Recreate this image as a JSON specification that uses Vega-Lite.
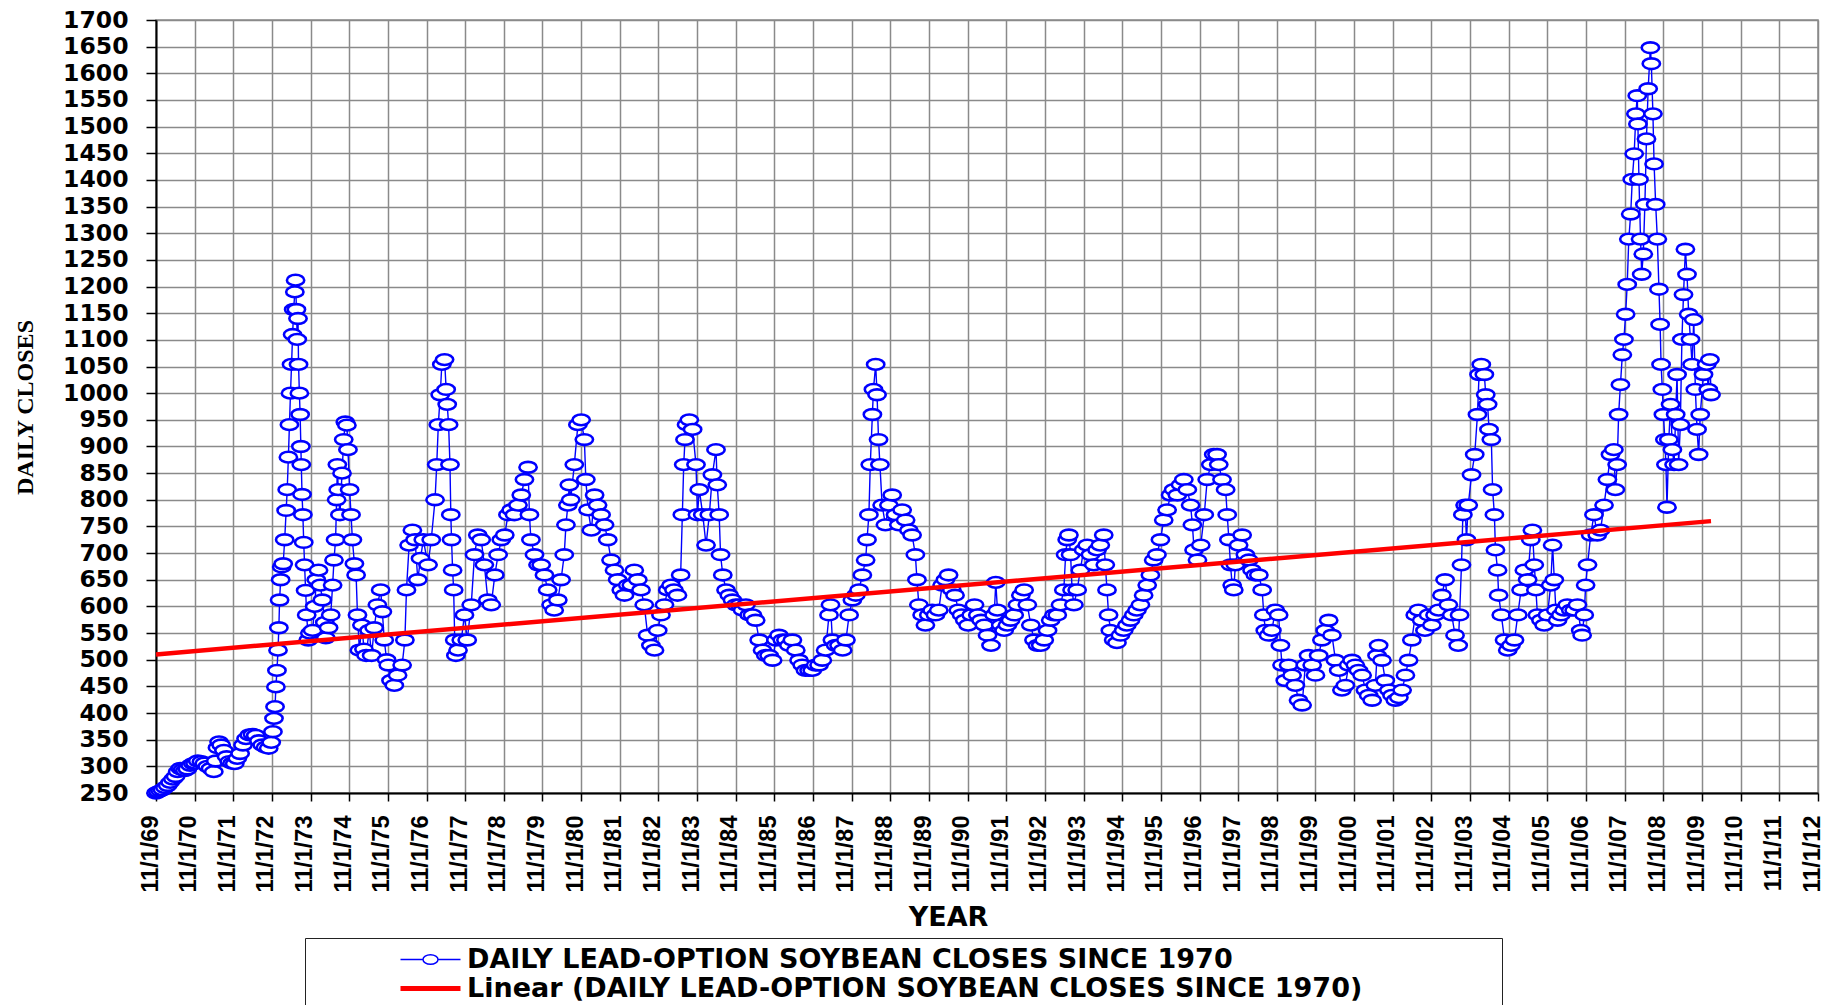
{
"$schema": "https://vega.github.io/schema/vega-lite/v6.json",
"width": 1662, "height": 773,
"autosize": {"type": "none"},
"padding": {"left": 156, "top": 20, "right": 6, "bottom": 212},
"background": "white",
"config": {
 "view": {"stroke": "#8a8a8a", "strokeWidth": 1.5},
 "axis": {"gridColor": "#8a8a8a", "gridWidth": 1.5, "gridOpacity": 1, "domainColor": "#000", "domainWidth": 2, "tickColor": "#000", "tickWidth": 1.5, "labelColor": "#000", "titleColor": "#000"}
},
"datasets": {
"trend": [{"d":"1969-11-01","v":510},{"d":"2010-01-25","v":760}],
"prices": [
{"d":"1969-11-01","v":250},{"d":"1969-11-20","v":252},{"d":"1969-12-10","v":254},{"d":"1970-01-01","v":256},{"d":"1970-01-25","v":260},{"d":"1970-02-20","v":264},{"d":"1970-03-15","v":270},{"d":"1970-04-10","v":276},{"d":"1970-05-05","v":281},{"d":"1970-05-25","v":290},{"d":"1970-06-18","v":296},{"d":"1970-07-10","v":294},{"d":"1970-08-01","v":292},{"d":"1970-08-25","v":295},{"d":"1970-09-20","v":302},{"d":"1970-10-15","v":305},{"d":"1970-11-05","v":306},{"d":"1970-12-01","v":310},
{"d":"1971-01-05","v":309},{"d":"1971-02-01","v":306},{"d":"1971-03-01","v":300},{"d":"1971-04-01","v":296},{"d":"1971-05-01","v":290},{"d":"1971-05-20","v":310},{"d":"1971-06-05","v":335},{"d":"1971-06-20","v":346},{"d":"1971-07-10","v":340},{"d":"1971-08-05","v":330},{"d":"1971-08-30","v":318},{"d":"1971-09-25","v":309},{"d":"1971-10-20","v":306},{"d":"1971-11-15","v":305},{"d":"1971-12-10","v":315},
{"d":"1972-01-05","v":324},{"d":"1972-02-01","v":340},{"d":"1972-03-01","v":352},{"d":"1972-04-01","v":359},{"d":"1972-05-01","v":360},{"d":"1972-06-01","v":358},{"d":"1972-07-01","v":348},{"d":"1972-08-01","v":340},{"d":"1972-09-01","v":336},{"d":"1972-10-01","v":334},{"d":"1972-10-25","v":345},{"d":"1972-11-10","v":365},{"d":"1972-11-20","v":390},{"d":"1972-11-30","v":412},{"d":"1972-12-08","v":449},{"d":"1972-12-18","v":480},{"d":"1972-12-28","v":518},
{"d":"1973-01-05","v":560},{"d":"1973-01-12","v":612},{"d":"1973-01-22","v":650},{"d":"1973-02-01","v":674},{"d":"1973-02-15","v":680},{"d":"1973-03-01","v":725},{"d":"1973-03-15","v":780},{"d":"1973-03-25","v":819},{"d":"1973-04-05","v":880},{"d":"1973-04-15","v":941},{"d":"1973-04-25","v":1000},{"d":"1973-05-05","v":1054},{"d":"1973-05-15","v":1110},{"d":"1973-05-25","v":1157},{"d":"1973-06-05","v":1190},{"d":"1973-06-12","v":1212},{"d":"1973-06-20","v":1157},{"d":"1973-06-28","v":1101},{"d":"1973-07-05","v":1140},{"d":"1973-07-10","v":1054},{"d":"1973-07-18","v":1000},{"d":"1973-07-25","v":960},{"d":"1973-08-01","v":900},{"d":"1973-08-05","v":866},{"d":"1973-08-12","v":810},{"d":"1973-08-20","v":772},{"d":"1973-08-28","v":720},{"d":"1973-09-05","v":678},{"d":"1973-09-15","v":630},{"d":"1973-09-25","v":584},{"d":"1973-10-10","v":537},{"d":"1973-10-25","v":550},{"d":"1973-11-20","v":555},{"d":"1973-12-10","v":600},{"d":"1973-12-25","v":650},
{"d":"1974-01-15","v":668},{"d":"1974-02-01","v":640},{"d":"1974-02-20","v":612},{"d":"1974-03-15","v":570},{"d":"1974-03-25","v":541},{"d":"1974-04-20","v":560},{"d":"1974-05-10","v":584},{"d":"1974-05-28","v":640},{"d":"1974-06-10","v":687},{"d":"1974-06-25","v":725},{"d":"1974-07-05","v":800},{"d":"1974-07-12","v":866},{"d":"1974-07-20","v":819},{"d":"1974-08-05","v":772},{"d":"1974-08-25","v":850},{"d":"1974-09-10","v":913},{"d":"1974-09-25","v":946},{"d":"1974-10-10","v":940},{"d":"1974-10-20","v":894},{"d":"1974-11-05","v":819},{"d":"1974-11-18","v":772},{"d":"1974-12-01","v":725},{"d":"1974-12-20","v":680},
{"d":"1975-01-05","v":659},{"d":"1975-01-18","v":584},{"d":"1975-02-05","v":518},{"d":"1975-03-01","v":565},{"d":"1975-03-20","v":520},{"d":"1975-04-10","v":508},{"d":"1975-05-08","v":555},{"d":"1975-06-01","v":508},{"d":"1975-06-25","v":560},{"d":"1975-07-25","v":603},{"d":"1975-08-25","v":631},{"d":"1975-09-10","v":590},{"d":"1975-09-28","v":537},{"d":"1975-10-20","v":500},{"d":"1975-11-05","v":490},{"d":"1975-12-01","v":461},
{"d":"1976-01-01","v":452},{"d":"1976-02-01","v":471},{"d":"1976-03-15","v":490},{"d":"1976-04-10","v":537},{"d":"1976-04-25","v":631},{"d":"1976-05-20","v":715},{"d":"1976-06-20","v":743},{"d":"1976-07-15","v":725},{"d":"1976-08-10","v":650},{"d":"1976-09-05","v":690},{"d":"1976-10-01","v":725},{"d":"1976-11-15","v":678},{"d":"1976-12-15","v":725},
{"d":"1977-01-20","v":800},{"d":"1977-02-05","v":866},{"d":"1977-02-20","v":941},{"d":"1977-03-10","v":997},{"d":"1977-03-25","v":1054},{"d":"1977-04-20","v":1063},{"d":"1977-05-05","v":1007},{"d":"1977-05-15","v":979},{"d":"1977-05-28","v":941},{"d":"1977-06-10","v":866},{"d":"1977-06-18","v":772},{"d":"1977-06-25","v":725},{"d":"1977-07-05","v":668},{"d":"1977-07-15","v":631},{"d":"1977-07-25","v":537},{"d":"1977-08-05","v":508},{"d":"1977-08-25","v":518},{"d":"1977-09-25","v":537},{"d":"1977-10-25","v":584},{"d":"1977-11-20","v":537},{"d":"1977-12-28","v":603},
{"d":"1978-01-28","v":697},{"d":"1978-02-28","v":734},{"d":"1978-04-01","v":725},{"d":"1978-05-01","v":678},{"d":"1978-06-03","v":612},{"d":"1978-07-05","v":603},{"d":"1978-08-08","v":659},{"d":"1978-09-08","v":697},{"d":"1978-10-08","v":725},{"d":"1978-11-10","v":734},{"d":"1978-12-10","v":772},
{"d":"1979-01-10","v":781},{"d":"1979-02-10","v":772},{"d":"1979-03-15","v":790},{"d":"1979-04-15","v":809},{"d":"1979-05-15","v":838},{"d":"1979-06-18","v":861},{"d":"1979-07-01","v":772},{"d":"1979-07-15","v":725},{"d":"1979-08-18","v":697},{"d":"1979-09-20","v":678},{"d":"1979-10-20","v":678},{"d":"1979-11-20","v":659},{"d":"1979-12-20","v":631},
{"d":"1980-01-22","v":603},{"d":"1980-02-20","v":593},{"d":"1980-03-25","v":612},{"d":"1980-04-25","v":650},{"d":"1980-05-25","v":697},{"d":"1980-06-10","v":753},{"d":"1980-06-28","v":790},{"d":"1980-07-12","v":828},{"d":"1980-07-25","v":800},{"d":"1980-08-28","v":866},{"d":"1980-10-01","v":941},{"d":"1980-11-01","v":950},{"d":"1980-12-01","v":913},{"d":"1980-12-15","v":838},
{"d":"1981-01-05","v":781},{"d":"1981-02-05","v":743},{"d":"1981-03-08","v":809},{"d":"1981-04-05","v":790},{"d":"1981-05-08","v":772},{"d":"1981-06-10","v":753},{"d":"1981-07-10","v":725},{"d":"1981-08-10","v":687},{"d":"1981-09-12","v":668},{"d":"1981-10-12","v":650},{"d":"1981-11-15","v":631},{"d":"1981-12-15","v":621},
{"d":"1982-01-15","v":640},{"d":"1982-02-18","v":640},{"d":"1982-03-18","v":668},{"d":"1982-04-20","v":650},{"d":"1982-05-20","v":631},{"d":"1982-06-20","v":603},{"d":"1982-07-22","v":546},{"d":"1982-08-22","v":527},{"d":"1982-09-25","v":518},{"d":"1982-10-25","v":555},{"d":"1982-11-25","v":584},{"d":"1982-12-28","v":603},
{"d":"1983-01-28","v":631},{"d":"1983-02-28","v":640},{"d":"1983-03-28","v":631},{"d":"1983-04-30","v":621},{"d":"1983-05-30","v":659},{"d":"1983-06-15","v":772},{"d":"1983-06-28","v":866},{"d":"1983-07-10","v":913},{"d":"1983-07-25","v":941},{"d":"1983-08-20","v":950},{"d":"1983-09-20","v":932},{"d":"1983-10-22","v":866},{"d":"1983-11-05","v":772},{"d":"1983-11-22","v":819},{"d":"1983-12-25","v":772},
{"d":"1984-01-25","v":715},{"d":"1984-02-25","v":772},{"d":"1984-03-25","v":847},{"d":"1984-04-28","v":894},{"d":"1984-05-10","v":828},{"d":"1984-05-28","v":772},{"d":"1984-06-10","v":697},{"d":"1984-07-01","v":659},{"d":"1984-08-01","v":631},{"d":"1984-09-01","v":621},{"d":"1984-10-01","v":612},{"d":"1984-11-01","v":603},{"d":"1984-12-05","v":603},
{"d":"1985-01-05","v":593},{"d":"1985-02-05","v":603},{"d":"1985-03-08","v":584},{"d":"1985-04-08","v":584},{"d":"1985-05-08","v":574},{"d":"1985-06-10","v":537},{"d":"1985-07-12","v":518},{"d":"1985-08-12","v":508},{"d":"1985-09-12","v":508},{"d":"1985-10-15","v":499},{"d":"1985-11-15","v":537},{"d":"1985-12-15","v":546},
{"d":"1986-01-15","v":537},{"d":"1986-02-18","v":537},{"d":"1986-03-18","v":527},{"d":"1986-04-20","v":537},{"d":"1986-05-22","v":518},{"d":"1986-06-22","v":499},{"d":"1986-07-22","v":490},{"d":"1986-08-22","v":480},{"d":"1986-09-25","v":480},{"d":"1986-10-25","v":480},{"d":"1986-11-25","v":490},{"d":"1986-12-28","v":490},
{"d":"1987-01-28","v":499},{"d":"1987-02-28","v":518},{"d":"1987-04-01","v":584},{"d":"1987-04-15","v":603},{"d":"1987-05-03","v":537},{"d":"1987-06-03","v":527},{"d":"1987-07-05","v":527},{"d":"1987-08-08","v":518},{"d":"1987-09-08","v":537},{"d":"1987-10-08","v":584},{"d":"1987-11-08","v":612},{"d":"1987-12-10","v":621},
{"d":"1988-01-10","v":631},{"d":"1988-02-10","v":659},{"d":"1988-03-12","v":687},{"d":"1988-03-25","v":725},{"d":"1988-04-12","v":772},{"d":"1988-04-25","v":866},{"d":"1988-05-15","v":960},{"d":"1988-05-25","v":1007},{"d":"1988-06-15","v":1054},{"d":"1988-06-28","v":997},{"d":"1988-07-12","v":913},{"d":"1988-07-25","v":866},{"d":"1988-08-15","v":790},{"d":"1988-09-15","v":753},{"d":"1988-10-18","v":790},{"d":"1988-11-18","v":809},{"d":"1988-12-20","v":772},
{"d":"1989-01-20","v":753},{"d":"1989-02-20","v":781},{"d":"1989-03-25","v":762},{"d":"1989-04-25","v":743},{"d":"1989-05-25","v":734},{"d":"1989-06-25","v":697},{"d":"1989-07-10","v":650},{"d":"1989-07-28","v":603},{"d":"1989-08-28","v":584},{"d":"1989-09-28","v":565},{"d":"1989-10-30","v":584},{"d":"1989-12-01","v":593},
{"d":"1990-01-01","v":584},{"d":"1990-02-01","v":593},{"d":"1990-03-05","v":640},{"d":"1990-04-05","v":650},{"d":"1990-05-05","v":659},{"d":"1990-06-05","v":631},{"d":"1990-07-05","v":621},{"d":"1990-08-05","v":593},{"d":"1990-09-05","v":584},{"d":"1990-10-05","v":574},{"d":"1990-11-05","v":565},{"d":"1990-12-05","v":584},
{"d":"1991-01-05","v":603},{"d":"1991-02-05","v":584},{"d":"1991-03-08","v":574},{"d":"1991-04-08","v":565},{"d":"1991-05-08","v":546},{"d":"1991-06-10","v":527},{"d":"1991-07-10","v":584},{"d":"1991-07-25","v":645},{"d":"1991-08-10","v":593},{"d":"1991-09-10","v":565},{"d":"1991-10-12","v":555},{"d":"1991-11-12","v":565},{"d":"1991-12-12","v":574},
{"d":"1992-01-15","v":584},{"d":"1992-02-15","v":603},{"d":"1992-03-18","v":621},{"d":"1992-04-18","v":631},{"d":"1992-05-18","v":603},{"d":"1992-06-20","v":565},{"d":"1992-07-20","v":537},{"d":"1992-08-22","v":527},{"d":"1992-09-22","v":527},{"d":"1992-10-25","v":537},{"d":"1992-11-25","v":555},{"d":"1992-12-25","v":574},
{"d":"1993-01-25","v":584},{"d":"1993-02-25","v":584},{"d":"1993-03-28","v":603},{"d":"1993-04-28","v":631},{"d":"1993-05-15","v":697},{"d":"1993-05-30","v":725},{"d":"1993-06-15","v":734},{"d":"1993-07-01","v":697},{"d":"1993-07-15","v":631},{"d":"1993-08-01","v":603},{"d":"1993-09-01","v":631},{"d":"1993-10-01","v":668},{"d":"1993-11-01","v":706},{"d":"1993-12-05","v":715},
{"d":"1994-01-05","v":697},{"d":"1994-02-05","v":678},{"d":"1994-03-08","v":706},{"d":"1994-04-08","v":715},{"d":"1994-05-10","v":734},{"d":"1994-05-25","v":678},{"d":"1994-06-10","v":631},{"d":"1994-06-25","v":584},{"d":"1994-07-12","v":555},{"d":"1994-08-12","v":537},{"d":"1994-09-12","v":532},{"d":"1994-10-15","v":546},{"d":"1994-11-15","v":555},{"d":"1994-12-15","v":565},
{"d":"1995-01-18","v":574},{"d":"1995-02-18","v":584},{"d":"1995-03-20","v":593},{"d":"1995-04-22","v":603},{"d":"1995-05-22","v":621},{"d":"1995-06-25","v":640},{"d":"1995-07-25","v":659},{"d":"1995-08-25","v":687},{"d":"1995-09-25","v":697},{"d":"1995-10-28","v":725},{"d":"1995-11-28","v":762},{"d":"1995-12-30","v":781},
{"d":"1996-02-01","v":809},{"d":"1996-03-01","v":819},{"d":"1996-04-05","v":809},{"d":"1996-05-05","v":828},{"d":"1996-06-05","v":838},{"d":"1996-07-08","v":819},{"d":"1996-08-08","v":790},{"d":"1996-08-25","v":753},{"d":"1996-09-10","v":706},{"d":"1996-10-12","v":687},{"d":"1996-11-12","v":715},{"d":"1996-12-15","v":772},
{"d":"1997-01-12","v":838},{"d":"1997-02-15","v":866},{"d":"1997-03-15","v":885},{"d":"1997-04-15","v":885},{"d":"1997-05-01","v":866},{"d":"1997-06-01","v":838},{"d":"1997-07-05","v":819},{"d":"1997-07-20","v":772},{"d":"1997-08-05","v":725},{"d":"1997-08-20","v":678},{"d":"1997-09-05","v":640},{"d":"1997-09-20","v":631},{"d":"1997-10-05","v":678},{"d":"1997-11-05","v":715},{"d":"1997-12-08","v":734},
{"d":"1998-01-08","v":697},{"d":"1998-02-10","v":687},{"d":"1998-03-12","v":668},{"d":"1998-04-12","v":659},{"d":"1998-05-15","v":659},{"d":"1998-06-15","v":631},{"d":"1998-07-01","v":584},{"d":"1998-07-15","v":555},{"d":"1998-08-15","v":546},{"d":"1998-09-15","v":555},{"d":"1998-10-18","v":593},{"d":"1998-11-18","v":584},{"d":"1998-12-05","v":527},{"d":"1998-12-20","v":490},
{"d":"1999-01-20","v":461},{"d":"1999-02-20","v":490},{"d":"1999-03-25","v":471},{"d":"1999-04-25","v":452},{"d":"1999-05-25","v":424},{"d":"1999-06-28","v":415},{"d":"1999-07-28","v":490},{"d":"1999-08-28","v":508},{"d":"1999-10-01","v":490},{"d":"1999-11-01","v":471},{"d":"1999-12-01","v":508},
{"d":"2000-01-01","v":537},{"d":"2000-02-01","v":555},{"d":"2000-03-05","v":574},{"d":"2000-04-05","v":546},{"d":"2000-05-08","v":499},{"d":"2000-06-08","v":480},{"d":"2000-07-08","v":443},{"d":"2000-08-10","v":452},{"d":"2000-09-10","v":490},{"d":"2000-10-12","v":499},{"d":"2000-11-12","v":490},{"d":"2000-12-12","v":480},
{"d":"2001-01-15","v":471},{"d":"2001-02-15","v":443},{"d":"2001-03-18","v":433},{"d":"2001-04-20","v":424},{"d":"2001-05-20","v":452},{"d":"2001-06-05","v":508},{"d":"2001-06-20","v":527},{"d":"2001-07-22","v":499},{"d":"2001-08-22","v":461},{"d":"2001-09-25","v":443},{"d":"2001-10-25","v":433},{"d":"2001-11-25","v":424},{"d":"2001-12-28","v":429},
{"d":"2002-01-28","v":443},{"d":"2002-02-28","v":471},{"d":"2002-03-30","v":499},{"d":"2002-04-30","v":537},{"d":"2002-06-01","v":584},{"d":"2002-07-01","v":593},{"d":"2002-08-01","v":574},{"d":"2002-09-01","v":555},{"d":"2002-10-05","v":584},{"d":"2002-11-05","v":565},{"d":"2002-12-05","v":584},
{"d":"2003-01-08","v":593},{"d":"2003-02-08","v":621},{"d":"2003-03-10","v":650},{"d":"2003-04-10","v":603},{"d":"2003-05-12","v":584},{"d":"2003-06-12","v":546},{"d":"2003-07-12","v":527},{"d":"2003-07-25","v":584},{"d":"2003-08-12","v":678},{"d":"2003-08-25","v":772},{"d":"2003-09-15","v":790},{"d":"2003-09-28","v":725},{"d":"2003-10-15","v":790},{"d":"2003-11-15","v":847},{"d":"2003-12-15","v":885},
{"d":"2004-01-10","v":960},{"d":"2004-01-25","v":1035},{"d":"2004-02-15","v":1054},{"d":"2004-03-15","v":1035},{"d":"2004-03-28","v":997},{"d":"2004-04-15","v":979},{"d":"2004-04-28","v":932},{"d":"2004-05-20","v":913},{"d":"2004-06-01","v":819},{"d":"2004-06-18","v":772},{"d":"2004-06-28","v":706},{"d":"2004-07-18","v":668},{"d":"2004-07-28","v":621},{"d":"2004-08-22","v":584},{"d":"2004-09-22","v":537},{"d":"2004-10-22","v":518},{"d":"2004-11-22","v":527},{"d":"2004-12-25","v":537},
{"d":"2005-01-25","v":584},{"d":"2005-02-25","v":631},{"d":"2005-03-28","v":668},{"d":"2005-04-28","v":650},{"d":"2005-05-28","v":725},{"d":"2005-06-12","v":743},{"d":"2005-06-30","v":678},{"d":"2005-07-15","v":631},{"d":"2005-07-30","v":584},{"d":"2005-09-01","v":574},{"d":"2005-10-01","v":565},{"d":"2005-11-02","v":584},{"d":"2005-12-02","v":640},{"d":"2005-12-20","v":715},
{"d":"2006-01-05","v":650},{"d":"2006-01-20","v":593},{"d":"2006-02-05","v":574},{"d":"2006-03-08","v":584},{"d":"2006-04-08","v":593},{"d":"2006-05-08","v":603},{"d":"2006-06-10","v":593},{"d":"2006-07-12","v":593},{"d":"2006-08-12","v":603},{"d":"2006-09-12","v":555},{"d":"2006-09-25","v":546},{"d":"2006-10-15","v":584},{"d":"2006-10-28","v":640},{"d":"2006-11-15","v":678},{"d":"2006-12-15","v":734},
{"d":"2007-01-15","v":772},{"d":"2007-02-15","v":734},{"d":"2007-03-18","v":743},{"d":"2007-04-20","v":790},{"d":"2007-05-22","v":838},{"d":"2007-06-20","v":885},{"d":"2007-07-22","v":894},{"d":"2007-08-05","v":819},{"d":"2007-08-22","v":866},{"d":"2007-09-05","v":960},{"d":"2007-09-22","v":1016},{"d":"2007-10-10","v":1072},{"d":"2007-10-25","v":1101},{"d":"2007-11-10","v":1148},{"d":"2007-11-25","v":1204},{"d":"2007-12-10","v":1289},{"d":"2007-12-28","v":1336},
{"d":"2008-01-12","v":1401},{"d":"2008-01-30","v":1449},{"d":"2008-02-15","v":1524},{"d":"2008-02-28","v":1558},{"d":"2008-03-05","v":1505},{"d":"2008-03-15","v":1401},{"d":"2008-03-30","v":1289},{"d":"2008-04-10","v":1223},{"d":"2008-04-25","v":1261},{"d":"2008-05-10","v":1354},{"d":"2008-05-25","v":1477},{"d":"2008-06-10","v":1571},{"d":"2008-07-01","v":1648},{"d":"2008-07-10","v":1618},{"d":"2008-07-25","v":1524},{"d":"2008-08-05","v":1430},{"d":"2008-08-20","v":1354},{"d":"2008-09-05","v":1289},{"d":"2008-09-20","v":1195},{"d":"2008-10-01","v":1129},{"d":"2008-10-10","v":1054},{"d":"2008-10-22","v":1007},{"d":"2008-11-01","v":960},{"d":"2008-11-15","v":913},{"d":"2008-11-25","v":866},{"d":"2008-12-05","v":786},{"d":"2008-12-22","v":913},
{"d":"2009-01-08","v":979},{"d":"2009-01-25","v":894},{"d":"2009-02-10","v":866},{"d":"2009-02-25","v":960},{"d":"2009-03-10","v":1035},{"d":"2009-03-25","v":866},{"d":"2009-04-10","v":941},{"d":"2009-04-25","v":1101},{"d":"2009-05-10","v":1185},{"d":"2009-05-28","v":1270},{"d":"2009-06-12","v":1223},{"d":"2009-06-28","v":1148},{"d":"2009-07-15","v":1101},{"d":"2009-07-30","v":1054},{"d":"2009-08-15","v":1138},{"d":"2009-08-30","v":1007},{"d":"2009-09-15","v":932},{"d":"2009-09-30","v":885},{"d":"2009-10-15","v":960},{"d":"2009-11-15","v":1035},{"d":"2009-12-15","v":1054},{"d":"2009-12-30","v":1007},{"d":"2010-01-15","v":1063},{"d":"2010-01-25","v":997}
]
},
"encoding": {
 "x": {"field": "d", "type": "temporal",
  "scale": {"type": "utc", "domain": [{"year":1969,"month":11,"date":1,"utc":true},{"year":2012,"month":11,"date":1,"utc":true}]},
  "axis": {"values": [
   {"year":1969,"month":11,"date":1,"utc":true},{"year":1970,"month":11,"date":1,"utc":true},{"year":1971,"month":11,"date":1,"utc":true},{"year":1972,"month":11,"date":1,"utc":true},{"year":1973,"month":11,"date":1,"utc":true},{"year":1974,"month":11,"date":1,"utc":true},{"year":1975,"month":11,"date":1,"utc":true},{"year":1976,"month":11,"date":1,"utc":true},{"year":1977,"month":11,"date":1,"utc":true},{"year":1978,"month":11,"date":1,"utc":true},{"year":1979,"month":11,"date":1,"utc":true},{"year":1980,"month":11,"date":1,"utc":true},{"year":1981,"month":11,"date":1,"utc":true},{"year":1982,"month":11,"date":1,"utc":true},{"year":1983,"month":11,"date":1,"utc":true},{"year":1984,"month":11,"date":1,"utc":true},{"year":1985,"month":11,"date":1,"utc":true},{"year":1986,"month":11,"date":1,"utc":true},{"year":1987,"month":11,"date":1,"utc":true},{"year":1988,"month":11,"date":1,"utc":true},{"year":1989,"month":11,"date":1,"utc":true},{"year":1990,"month":11,"date":1,"utc":true},{"year":1991,"month":11,"date":1,"utc":true},{"year":1992,"month":11,"date":1,"utc":true},{"year":1993,"month":11,"date":1,"utc":true},{"year":1994,"month":11,"date":1,"utc":true},{"year":1995,"month":11,"date":1,"utc":true},{"year":1996,"month":11,"date":1,"utc":true},{"year":1997,"month":11,"date":1,"utc":true},{"year":1998,"month":11,"date":1,"utc":true},{"year":1999,"month":11,"date":1,"utc":true},{"year":2000,"month":11,"date":1,"utc":true},{"year":2001,"month":11,"date":1,"utc":true},{"year":2002,"month":11,"date":1,"utc":true},{"year":2003,"month":11,"date":1,"utc":true},{"year":2004,"month":11,"date":1,"utc":true},{"year":2005,"month":11,"date":1,"utc":true},{"year":2006,"month":11,"date":1,"utc":true},{"year":2007,"month":11,"date":1,"utc":true},{"year":2008,"month":11,"date":1,"utc":true},{"year":2009,"month":11,"date":1,"utc":true},{"year":2010,"month":11,"date":1,"utc":true},{"year":2011,"month":11,"date":1,"utc":true},{"year":2012,"month":11,"date":1,"utc":true}
  ],
  "format": "%-m/%-d/%y", "labelAngle": 270, "labelAlign": "right", "labelBaseline": "middle", "labelOffset": -6,
  "labelFont": "Liberation Sans", "labelFontWeight": "bold", "labelFontSize": 23.5,
  "labelPadding": 14, "tickSize": 8, "labelFlush": false, "labelOverlap": false, "labelBound": false,
  "grid": true,
  "title": "YEAR", "titleFont": "DejaVu Sans", "titleFontWeight": "bold", "titleFontSize": 27,
  "titleX": 792, "titleY": 124, "titleAlign": "center", "titleBaseline": "middle"}
 },
 "y": {"field": "v", "type": "quantitative",
  "scale": {"domain": [250, 1700], "nice": false, "zero": false},
  "axis": {"values": [250,300,350,400,450,500,550,600,650,700,750,800,850,900,950,1000,1050,1100,1150,1200,1250,1300,1350,1400,1450,1500,1550,1600,1650,1700],
   "format": "d",
   "labelFont": "DejaVu Sans", "labelFontWeight": "bold", "labelFontSize": 23.5, "labelPadding": 18, "tickSize": 10, "grid": true,
   "title": "DAILY CLOSES", "titleFont": "Liberation Serif", "titleFontWeight": "bold", "titleFontSize": 24,
   "titleAngle": 270, "titleX": -131, "titleY": 387, "titleAlign": "center", "titleBaseline": "middle"}
 }
},
"layer": [
 {"data": {"name": "prices"},
  "mark": {"type": "line", "strokeWidth": 1.4},
  "encoding": {
   "color": {"datum": "DAILY LEAD-OPTION SOYBEAN CLOSES SINCE 1970",
    "scale": {"domain": ["DAILY LEAD-OPTION SOYBEAN CLOSES SINCE 1970", "Linear (DAILY LEAD-OPTION SOYBEAN CLOSES SINCE 1970)"], "range": ["#0000ff", "#ff0000"]},
    "legend": {"orient": "none", "legendX": 149, "legendY": 918, "direction": "vertical",
     "title": " ", "titleOrient": "right", "titleFontSize": 1, "titlePadding": 132,
     "padding": 8, "rowPadding": 1, "symbolOffset": 104, "labelOffset": 23,
     "symbolSize": 400, "symbolFillColor": "white",
     "symbolType": {"expr": "datum.value === 'Linear (DAILY LEAD-OPTION SOYBEAN CLOSES SINCE 1970)' ? 'M-3,0H3' : 'M-3,0H-0.75M0.75,0H3M-0.75,0A0.75,0.48,0,1,1,0.75,0A0.75,0.48,0,1,1,-0.75,0Z'"},
     "symbolStrokeWidth": {"expr": "datum.value === 'Linear (DAILY LEAD-OPTION SOYBEAN CLOSES SINCE 1970)' ? 5 : 1.5"},
     "labelFont": "DejaVu Sans", "labelFontWeight": "bold", "labelFontSize": 27, "labelColor": "#000", "labelLimit": 2000,
     "strokeColor": "#222222", "fillColor": "white"
    }
   }
  }
 },
 {"data": {"name": "prices"},
  "mark": {"type": "point", "shape": "M-1,0A1,0.62,0,1,1,1,0A1,0.62,0,1,1,-1,0Z", "size": 300, "filled": false, "fill": "white", "stroke": "#0000ff", "strokeWidth": 2.6, "opacity": 1},
  "encoding": {}
 },
 {"data": {"name": "trend"},
  "mark": {"type": "line", "strokeWidth": 4.5},
  "encoding": {"color": {"datum": "Linear (DAILY LEAD-OPTION SOYBEAN CLOSES SINCE 1970)"}}
 }
]
}
